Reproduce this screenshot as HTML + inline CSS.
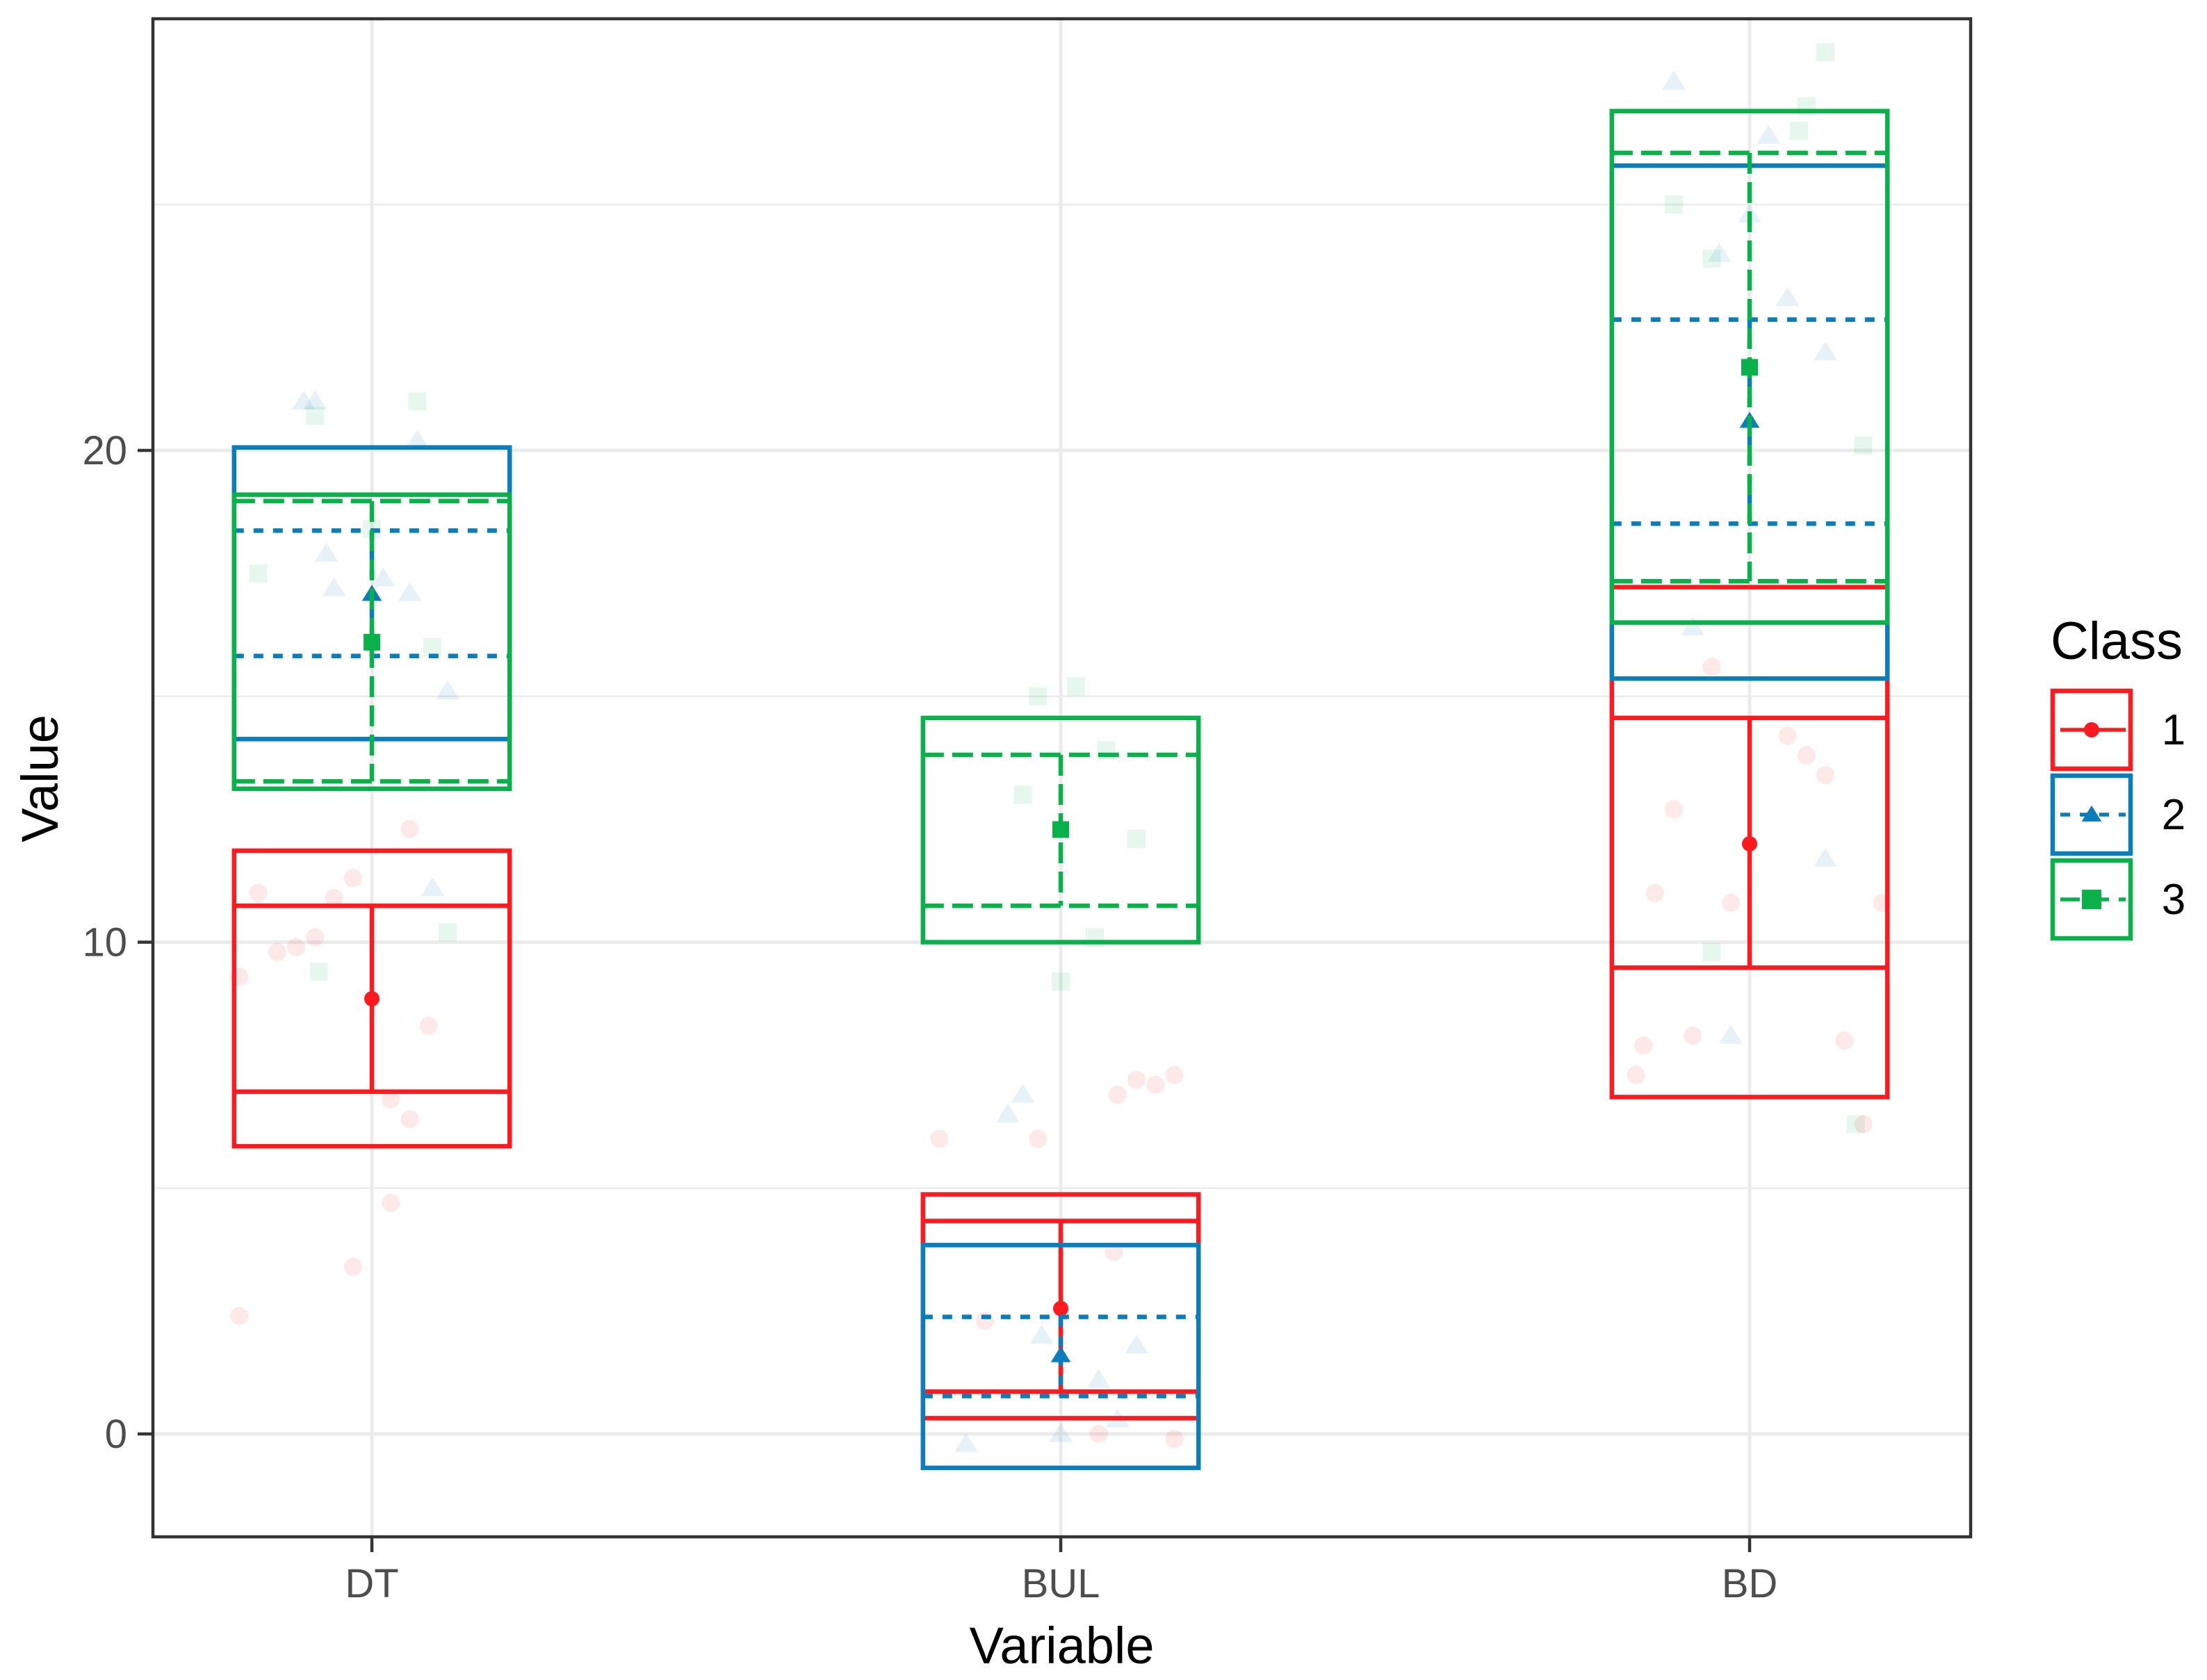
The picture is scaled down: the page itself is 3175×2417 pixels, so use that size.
<!DOCTYPE html>
<html><head><meta charset="utf-8"><style>
html,body{margin:0;padding:0;background:#fff;}
svg{display:block;font-family:"Liberation Sans",Arial,sans-serif;}
</style></head><body>
<svg id="chart" width="3175" height="2417" viewBox="0 0 3175 2417" xmlns="http://www.w3.org/2000/svg">
<g id="grid"></g>
<g id="pts"></g>
<g id="marks"></g>
<g id="axes"></g>
<g id="legend"></g>
</svg>
<script>
const categories = ["DT","BUL","BD"];
const classes = ["1","2","3"];
const outerTop1 = [11.86, 4.87, 17.22];
const outerBot1 = [5.85, 0.32, 6.85];
const innerHi1 = [10.74, 4.33, 14.56];
const innerLo1 = [6.96, 0.86, 9.48];
const mean1 = [8.85, 2.55, 12.0];
const outerTop2 = [20.06, 3.84, 25.79];
const outerBot2 = [14.13, -0.69, 15.36];
const innerHi2 = [18.37, 2.38, 22.66];
const innerLo2 = [15.82, 0.77, 18.51];
const mean2 = [17.08, 1.6, 20.6];
const outerTop3 = [19.1, 14.56, 26.9];
const outerBot3 = [13.12, 10.0, 16.5];
const innerHi3 = [18.97, 13.81, 26.05];
const innerLo3 = [13.27, 10.74, 17.34];
const mean3 = [16.1, 12.29, 21.69];
const yTicks = [0, 10, 20];
const yMinor = [5, 15, 25];
const pts1Cat = [0,0,0,0,0,0,0,0,0,0,0,0,0,0,1,1,1,1,1,1,1,1,1,1,2,2,2,2,2,2,2,2,2,2,2,2,2];
const pts1Off = [-0.35,-0.3,-0.25,-0.2,-0.15,-0.1,-0.05,0.05,0.1,0.15,-0.35,-0.05,0.05,0.1,-0.32,-0.06,0.15,0.2,0.25,0.3,-0.2,0.1,0.3,0.14,-0.28,-0.25,-0.2,-0.15,-0.1,-0.05,0.1,0.15,0.2,0.25,0.3,0.35,-0.3];
const pts1Val = [9.3,11.0,9.8,9.9,10.1,10.9,11.3,6.8,6.4,8.3,2.4,3.4,4.7,12.3,6.0,6.0,6.9,7.2,7.1,7.3,2.3,0.0,-0.1,3.7,7.9,11.0,12.7,8.1,15.6,10.8,14.2,13.8,13.4,8.0,6.3,10.8,7.3];
const pts2Cat = [0,0,0,0,0,0,0,0,0,1,1,1,1,1,1,1,1,2,2,2,2,2,2,2,2,2];
const pts2Off = [-0.18,-0.15,-0.12,0.03,0.1,0.12,0.16,-0.1,0.2,-0.14,-0.05,0.1,0.2,-0.25,0.0,0.15,-0.1,-0.2,-0.08,0.0,0.05,0.1,0.2,-0.15,-0.05,0.2];
const pts2Val = [21.0,21.0,17.9,17.4,17.1,20.2,11.1,17.2,15.1,6.5,2.0,1.1,1.8,-0.2,0.0,0.3,6.9,27.5,24.0,24.8,26.4,23.1,22.0,16.4,8.1,11.7];
const pts3Cat = [0,0,0,0,0,0,0,1,1,1,1,1,1,1,2,2,2,2,2,2,2,2];
const pts3Off = [-0.15,-0.3,0.12,0.16,0.2,-0.14,0.0,-0.06,0.04,0.12,0.2,-0.1,0.0,0.09,-0.2,-0.1,0.13,0.15,0.2,0.3,0.28,-0.1];
const pts3Val = [20.7,17.5,21.0,16.0,10.2,9.4,18.4,15.0,15.2,13.9,12.1,13.0,9.2,10.1,25.0,23.9,26.5,27.0,28.1,20.1,6.3,9.8];

const L=220, R=2835, T=27, B=2211;
const xStep = 991;
function xScale(i){ return 535 + xStep*i; }
function yScale(v){ return 2063 - 70.75*v; }
const halfW = 0.2*xStep;
const colors = ["#FF1A1F","#0A7DBA","#0AB14B"];
const dashes = ["", "14 14", "30 12"];
const NS="http://www.w3.org/2000/svg";
function mk(tag, attrs, parent){ const e=document.createElementNS(NS,tag); for(const k in attrs) e.setAttribute(k,attrs[k]); parent.appendChild(e); return e; }

const grid=document.getElementById('grid');
mk('rect',{x:L,y:T,width:R-L,height:B-T,fill:'#fff'},grid);
yMinor.forEach(v=>{ const l=mk('line',{x1:L,x2:R,y1:yScale(v),y2:yScale(v),stroke:'#EBEBEB','stroke-width':2.5},grid);

 });
yTicks.forEach(v=>{ const l=mk('line',{x1:L,x2:R,y1:yScale(v),y2:yScale(v),stroke:'#EBEBEB','stroke-width':5},grid);

 });
categories.forEach((c,i)=>{ const l=mk('line',{x1:xScale(i),x2:xScale(i),y1:T,y2:B,stroke:'#EBEBEB','stroke-width':5},grid);

 });

const pg=document.getElementById('pts');
function marker(k,cx,cy,s,parent,fill,op){
  let e;
  if(k===0) e=mk('circle',{cx:cx,cy:cy,r:s,fill:fill,'fill-opacity':op},parent);
  else if(k===1) e=mk('polygon',{points:`${cx},${cy-s*1.2} ${cx-s*1.3},${cy+s*0.9} ${cx+s*1.3},${cy+s*0.9}`,fill:fill,'fill-opacity':op},parent);
  else e=mk('rect',{x:cx-s,y:cy-s,width:2*s,height:2*s,fill:fill,'fill-opacity':op},parent);
  return e;
}
[[pts1Cat,pts1Off,pts1Val],[pts2Cat,pts2Off,pts2Val],[pts3Cat,pts3Off,pts3Val]].forEach((arr,k)=>{
  arr[0].forEach((ci,j)=>{
    const e=marker(k, xScale(ci)+arr[1][j]*xStep*0.55, yScale(arr[2][j]), 13, pg, colors[k], 0.1);
    
    
  });
});

const series=[[outerTop1,outerBot1,innerHi1,innerLo1,mean1],[outerTop2,outerBot2,innerHi2,innerLo2,mean2],[outerTop3,outerBot3,innerHi3,innerLo3,mean3]];
const mg=document.getElementById('marks');
const SW=6.5;
series.forEach((s,k)=>{
  categories.forEach((c,i)=>{
    const g=mk('g',{},mg);
    
    
    const x=xScale(i), col=colors[k];
    mk('rect',{x:x-halfW,y:yScale(s[0][i]),width:2*halfW,height:yScale(s[1][i])-yScale(s[0][i]),fill:'none',stroke:col,'stroke-width':SW},g);
    const da = dashes[k] ? {'stroke-dasharray':dashes[k]} : {};
    [s[2][i],s[3][i]].forEach(v=>{ mk('line',Object.assign({x1:x-halfW,x2:x+halfW,y1:yScale(v),y2:yScale(v),stroke:col,'stroke-width':SW},da),g); });
    mk('line',Object.assign({x1:x,x2:x,y1:yScale(s[2][i]),y2:yScale(s[3][i]),stroke:col,'stroke-width':SW},da),g);
    const m=marker(k,x,yScale(s[4][i]),k===2?12:11,g,col,1);
    
    
  });
});

const ax=document.getElementById('axes');
mk('rect',{x:L,y:T,width:R-L,height:B-T,fill:'none',stroke:'#333','stroke-width':4.5},ax);
yTicks.forEach(v=>{
  mk('line',{x1:L-22,x2:L,y1:yScale(v),y2:yScale(v),stroke:'#333','stroke-width':4.5},ax);
  const t=mk('text',{x:183,y:yScale(v)+20,'text-anchor':'end','font-size':58,fill:'#4D4D4D'},ax);
  t.textContent=v;
  
  
});
categories.forEach((c,i)=>{
  mk('line',{x1:xScale(i),x2:xScale(i),y1:B,y2:B+22,stroke:'#333','stroke-width':4.5},ax);
  const t=mk('text',{x:xScale(i),y:2298,'text-anchor':'middle','font-size':58,fill:'#4D4D4D'},ax);
  t.textContent=c;
  
  
});
const xt=mk('text',{x:(L+R)/2,y:2393,'text-anchor':'middle','font-size':74,fill:'#000'},ax);
xt.textContent='Variable';


const yt=mk('text',{x:0,y:0,'text-anchor':'middle','font-size':74,fill:'#000',transform:'translate(83,1120) rotate(-90)'},ax);
yt.textContent='Value';



const lg=document.getElementById('legend');
const lt=mk('text',{x:2950,y:948,'font-size':76,fill:'#000'},lg);
lt.textContent='Class';


const keyTop=[991,1113,1235];
classes.forEach((c,k)=>{
  const g=mk('g',{},lg);
  
  
  const y0=keyTop[k], col=colors[k];
  mk('rect',{x:2953,y:y0+3,width:112,height:112,fill:'none',stroke:col,'stroke-width':6.5},g);
  const da = dashes[k] ? {'stroke-dasharray':k===1?'14 14':'28 14'} : {};
  mk('line',Object.assign({x1:2964,x2:3058,y1:y0+59,y2:y0+59,stroke:col,'stroke-width':5.5},da),g);
  marker(k,3009,y0+59,k===2?14:11,g,col,1);
  const t=mk('text',{x:3127,y:y0+80,'text-anchor':'middle','font-size':62,fill:'#000'},g);
  t.textContent=c;
});
</script>
</body></html>
